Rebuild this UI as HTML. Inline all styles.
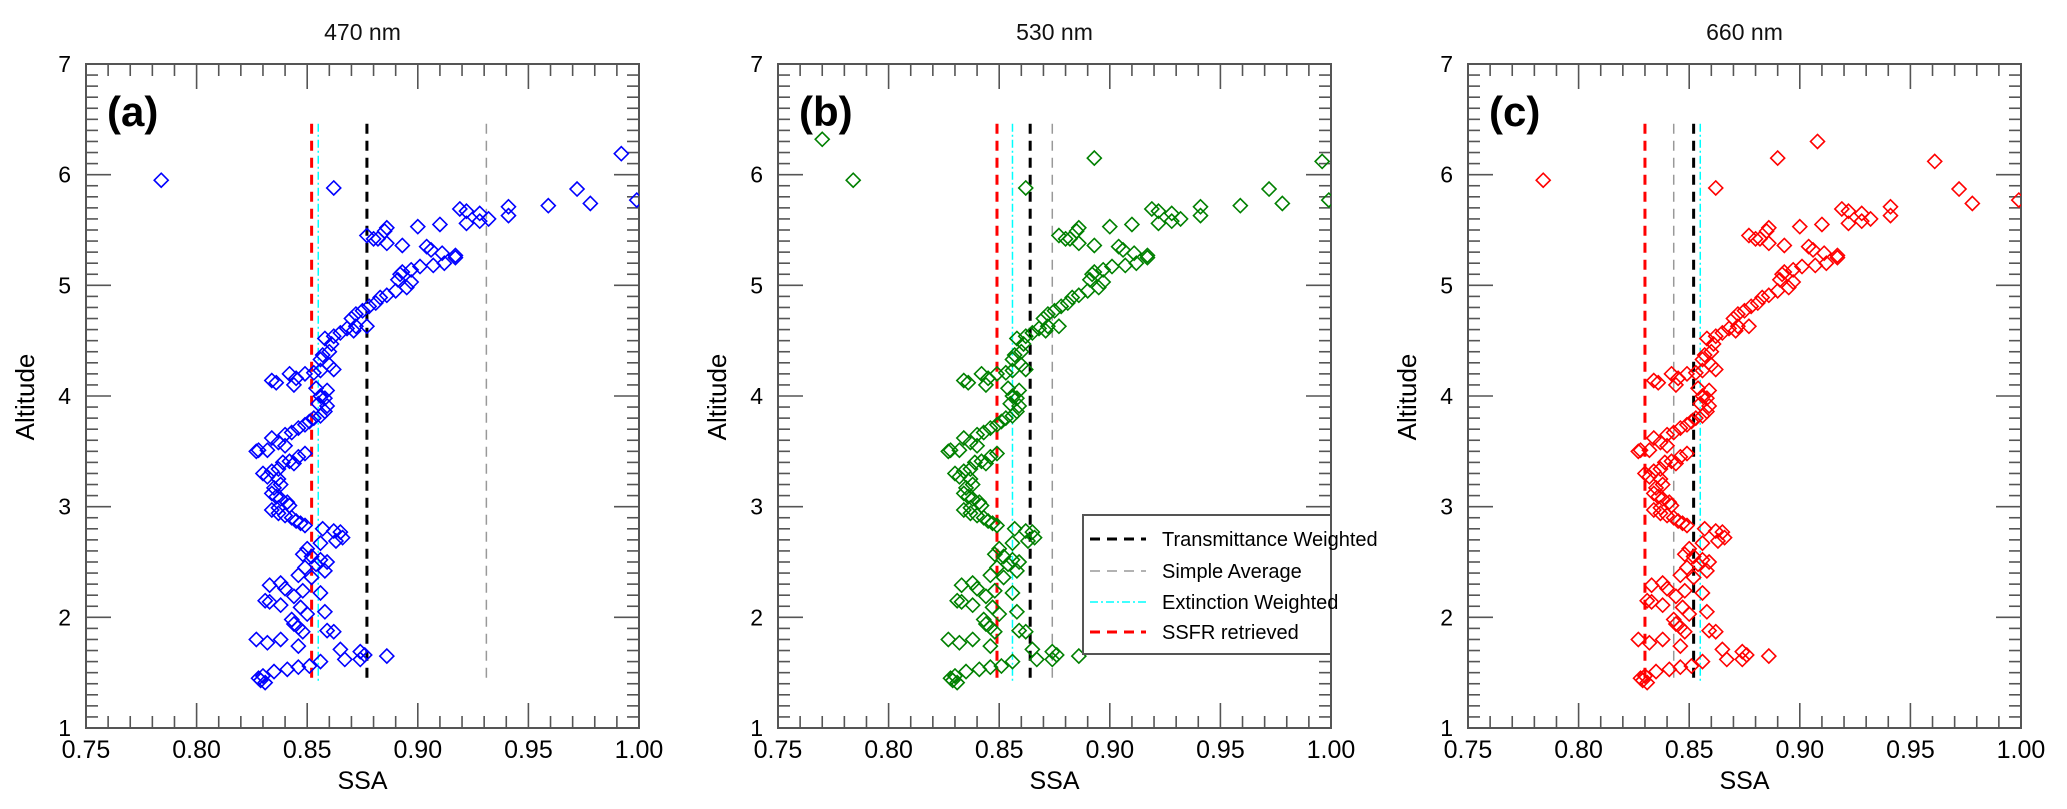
<!DOCTYPE html>
<html><head><meta charset="utf-8"><style>
html,body{margin:0;padding:0;background:#fff;}
svg{display:block;font-family:"Liberation Sans",Arial,sans-serif;}
</style></head><body>
<svg id="chart" width="2067" height="809" viewBox="0 0 2067 809" xmlns="http://www.w3.org/2000/svg"></svg>
<script>
const xTicks = [0.75, 0.80, 0.85, 0.90, 0.95, 1.00];
const xTickLabels = ["0.75", "0.80", "0.85", "0.90", "0.95", "1.00"];
const yTicks = [1, 2, 3, 4, 5, 6, 7];
const panelTitles = ["470 nm", "530 nm", "660 nm"];
const panelLetters = ["(a)", "(b)", "(c)"];
const panelColors = ["#0000ff", "#008000", "#ff0000"];
const legendLabels = ["Transmittance Weighted", "Simple Average", "Extinction Weighted", "SSFR retrieved"];
// vertical reference lines per panel: [transmittance, simple, extinction, ssfr]
const refA = [0.877, 0.931, 0.855, 0.852];
const refB = [0.864, 0.874, 0.856, 0.849];
const refC = [0.852, 0.843, 0.855, 0.830];
const refTop = 6.46, refBottom = 1.4;

const baseSSA = [0.910,0.900,0.877,0.880,0.882,0.885,0.886,0.886,0.893,0.904,0.906,0.907,0.911,0.912,0.917,0.917,0.901,0.897,0.893,0.891,0.892,0.897,0.895,0.890,0.886,0.883,0.881,0.878,0.875,0.872,0.870,0.872,0.877,0.871,0.868,0.865,0.862,0.858,0.861,0.860,0.857,0.856,0.860,0.862,0.856,0.853,0.849,0.845,0.842,0.834,0.836,0.844,0.854,0.856,0.859,0.858,0.855,0.859,0.858,0.856,0.853,0.851,0.849,0.846,0.843,0.840,0.834,0.837,0.840,0.832,0.827,0.828,0.849,0.846,0.842,0.839,0.844,0.837,0.834,0.830,0.832,0.837,0.838,0.835,0.834,0.836,0.838,0.841,0.842,0.837,0.834,0.837,0.840,0.843,0.845,0.847,0.849,0.857,0.862,0.865,0.866,0.863,0.856,0.850,0.848,0.852,0.856,0.859,0.854,0.849,0.858,0.846,0.852,0.833,0.838,0.840,0.848,0.856,0.844,0.831,0.833,0.838,0.847,0.858,0.850,0.843,0.844,0.846,0.848,0.859,0.862,0.827,0.832,0.838,0.846,0.865,0.867,0.874,0.876,0.886,0.874,0.856,0.851,0.846,0.841,0.835,0.830,0.828,0.831,0.829,0.941,0.941,0.932,0.928,0.928,0.919,0.922,0.922];
const baseAlt = [5.55,5.53,5.45,5.42,5.42,5.49,5.52,5.38,5.36,5.35,5.32,5.18,5.29,5.20,5.27,5.25,5.17,5.14,5.12,5.05,5.10,5.03,4.98,4.95,4.91,4.89,4.84,4.81,4.77,4.74,4.70,4.63,4.63,4.59,4.61,4.57,4.54,4.52,4.47,4.40,4.37,4.33,4.28,4.24,4.23,4.21,4.20,4.16,4.20,4.14,4.12,4.10,4.07,4.00,4.05,3.98,3.93,3.91,3.86,3.82,3.80,3.77,3.74,3.71,3.67,3.65,3.62,3.58,3.55,3.51,3.50,3.51,3.48,3.45,3.41,3.40,3.39,3.34,3.32,3.30,3.27,3.25,3.20,3.17,3.12,3.09,3.07,3.04,3.01,2.99,2.97,2.94,2.92,2.90,2.87,2.85,2.83,2.80,2.78,2.77,2.72,2.69,2.67,2.62,2.57,2.55,2.52,2.50,2.48,2.45,2.42,2.38,2.36,2.29,2.31,2.26,2.24,2.22,2.19,2.15,2.14,2.11,2.09,2.05,2.03,1.98,1.94,1.91,1.87,1.88,1.87,1.80,1.77,1.80,1.74,1.71,1.62,1.69,1.66,1.65,1.62,1.60,1.56,1.55,1.53,1.51,1.47,1.45,1.41,1.43,5.71,5.63,5.60,5.65,5.58,5.69,5.67,5.56];
const outSSA_A = [0.784,0.862,0.992,0.999,0.972,0.978,0.959];
const outAlt_A = [5.95,5.88,6.19,5.77,5.87,5.74,5.72];
const outSSA_B = [0.770,0.784,0.862,0.893,0.996,0.999,0.972,0.978,0.959];
const outAlt_B = [6.32,5.95,5.88,6.15,6.12,5.77,5.87,5.74,5.72];
const outSSA_C = [0.784,0.862,0.890,0.908,0.961,0.972,0.978,0.999];
const outAlt_C = [5.95,5.88,6.15,6.30,6.12,5.87,5.74,5.77];

const NS = "http://www.w3.org/2000/svg";
const svg = document.getElementById("chart");
function mk(tag, attrs, parent) {
  const e = document.createElementNS(NS, tag);
  for (const k in attrs) e.setAttribute(k, attrs[k]);
  (parent || svg).appendChild(e);
  return e;
}
const panelLefts = [86, 778, 1468];
const PW = 553, PT = 64, PB = 728;
const refs = [refA, refB, refC];
const outS = [outSSA_A, outSSA_B, outSSA_C];
const outY = [outAlt_A, outAlt_B, outAlt_C];
const refStyles = [
  {stroke:"#000", w:3, dash:"10,7"},
  {stroke:"#999", w:1.5, dash:"10,7"},
  {stroke:"#00ffff", w:1.5, dash:"8,3,2,3"},
  {stroke:"#ff0000", w:3, dash:"10,7"}
];
const refNames = ["transmittance-weighted-line","simple-average-line","extinction-weighted-line","ssfr-retrieved-line"];

panelLefts.forEach((L, p) => {
  const xs = v => L + (v - 0.75) / 0.25 * PW;
  const ys = v => PB - (v - 1) / 6 * (PB - PT);
  const g = mk("g", {});
  
  

  const t = mk("text", {x: L + PW/2, y: 40, "text-anchor":"middle", "font-size":23, fill:"#111"}, g);
  t.textContent = panelTitles[p];
  
  

  for (let i = 0; i <= 25; i++) {
    const v = 0.75 + i * 0.01, X = xs(v), major = i % 5 === 0, len = major ? 25 : 12;
    mk("line", {x1:X, x2:X, y1:PB, y2:PB-len, stroke:"#555", "stroke-width":1.6}, g);
    mk("line", {x1:X, x2:X, y1:PT, y2:PT+len, stroke:"#555", "stroke-width":1.6}, g);
  }
  for (let i = 0; i <= 60; i++) {
    const v = 1 + i * 0.1, Y = ys(v), major = i % 10 === 0, len = major ? 25 : 12;
    mk("line", {x1:L, x2:L+len, y1:Y, y2:Y, stroke:"#555", "stroke-width":1.6}, g);
    mk("line", {x1:L+PW, x2:L+PW-len, y1:Y, y2:Y, stroke:"#555", "stroke-width":1.6}, g);
  }
  const frame = mk("rect", {x:L, y:PT, width:PW, height:PB-PT, fill:"none", stroke:"#555", "stroke-width":2}, g);
  
  

  xTicks.forEach((v, i) => {
    const tx = mk("text", {x: xs(v), y: 758, "text-anchor":"middle", "font-size":25, fill:"#000"}, g);
    tx.textContent = xTickLabels[i];
    
    
  });
  yTicks.forEach(v => {
    const ty = mk("text", {x: L - 15, y: ys(v) + 8, "text-anchor":"end", "font-size":23, fill:"#000"}, g);
    ty.textContent = String(v);
    
    
  });
  const xl = mk("text", {x: L + PW/2, y: 789, "text-anchor":"middle", "font-size":25, fill:"#000"}, g);
  xl.textContent = "SSA";
  
  
  const yl = mk("text", {x: 0, y: 0, "text-anchor":"middle", "font-size":26, fill:"#000", transform:`translate(${L-52},397) rotate(-90)`}, g);
  yl.textContent = "Altitude";
  
  
  const lt = mk("text", {x: L + 21, y: 126, "font-size":42, "font-weight":"bold", fill:"#000"}, g);
  lt.textContent = panelLetters[p];
  
  

  refs[p].forEach((v, i) => {
    const s = refStyles[i];
    const ln = mk("line", {x1:xs(v), x2:xs(v), y1:ys(refTop), y2:ys(refBottom), stroke:s.stroke, "stroke-width":s.w, "stroke-dasharray":s.dash}, g);
    
    
  });

  const allS = baseSSA.concat(outS[p]);
  const allY = baseAlt.concat(outY[p]);
  const clip = mk("clipPath", {id:"clip"+p}, g);
  mk("rect", {x:L, y:PT, width:PW, height:PB-PT}, clip);
  const pg = mk("g", {"clip-path":`url(#clip${p})`}, g);
  allS.forEach((v, i) => {
    const X = xs(v), Y = ys(allY[i]), r = 7;
    const d = mk("path", {d:`M${X} ${Y-r}L${X+r} ${Y}L${X} ${Y+r}L${X-r} ${Y}Z`, fill:"none", stroke:panelColors[p], "stroke-width":1.6}, pg);
    
    
  });

  if (p === 1) {
    const lg = mk("g", {}, g);
    
    
    mk("rect", {x:1083, y:515, width:L+PW-1083, height:139, fill:"#fff", stroke:"#555", "stroke-width":2}, lg);
    const rowsY = [539, 571, 602, 632];
    [0, 1, 2, 3].forEach((k, i) => {
      const s = refStyles[k];
      const sl = mk("line", {x1:1090, x2:1146, y1:rowsY[i], y2:rowsY[i], stroke:s.stroke, "stroke-width":s.w, "stroke-dasharray":s.dash}, lg);
      
      
      const tt = mk("text", {x:1162, y:rowsY[i]+7, "font-size":20, fill:"#000"}, lg);
      tt.textContent = legendLabels[k];
      
      
    });
  }
});
</script>
</body></html>
